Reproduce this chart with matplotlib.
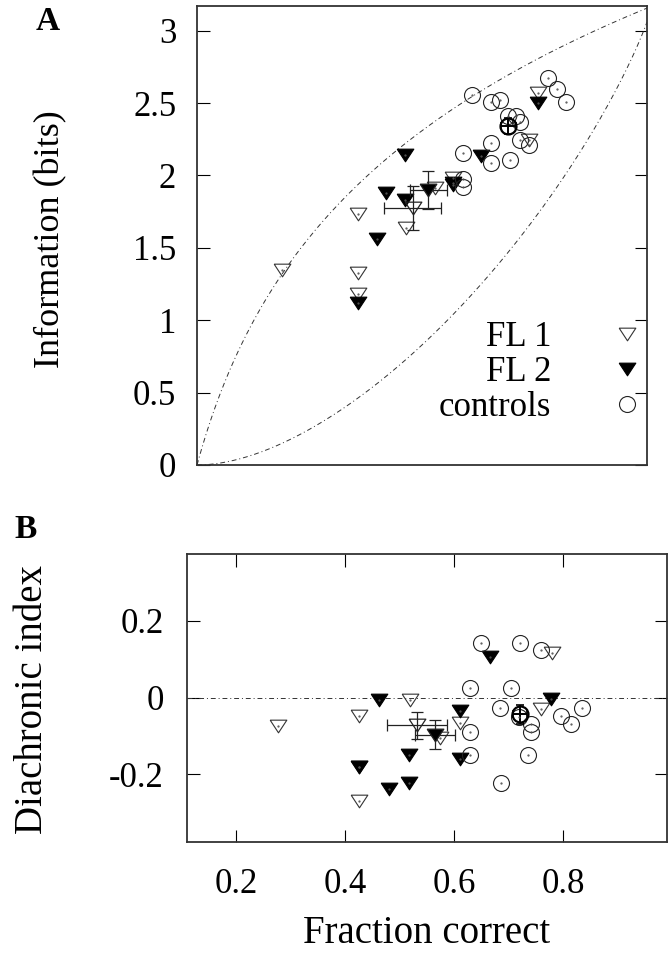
import numpy as np
import matplotlib
matplotlib.use("Agg")
import matplotlib.pyplot as plt

plt.rcParams['font.family'] = ['Liberation Serif', 'DejaVu Serif']

# ---- panel A: information vs fraction correct ----
fl1_frac_a = [0.277, 0.426, 0.426, 0.426, 0.519, 0.576, 0.612, 0.760, 0.778]
fl1_info = [1.35, 1.735, 1.325, 1.182, 1.636, 1.912, 1.981, 2.246, 2.569]
fl2_frac_a = [0.426, 0.463, 0.481, 0.517, 0.517, 0.612, 0.612, 0.665, 0.778]
fl2_info = [1.117, 1.562, 1.882, 2.142, 1.831, 1.935, 1.95, 2.135, 2.500]
ctrl_frac_a = [0.630, 0.630, 0.630, 0.648, 0.685, 0.685, 0.685, 0.703, 0.796,
               0.815, 0.832, 0.719, 0.734, 0.742, 0.723, 0.741, 0.759]
ctrl_info = [2.154, 1.974, 1.923, 2.557, 2.504, 2.227, 2.085, 2.522, 2.675,
             2.596, 2.504, 2.407, 2.407, 2.372, 2.108, 2.246, 2.211]
# group means (x, y, xerr, yerr)
mean_fl1_a = (0.532, 1.774, 0.055, 0.152)
mean_fl2_a = (0.563, 1.900, 0.036, 0.129)
mean_ctrl_a = (0.719, 2.340, 0.015, 0.055)

# ---- panel B: diachronic index vs fraction correct ----
fl1_frac_b = [0.278, 0.426, 0.426, 0.426, 0.519, 0.574, 0.611, 0.759, 0.779]
fl1_di = [-0.073, -0.049, -0.270, -0.181, -0.006, -0.105, -0.067, -0.029, 0.115]
fl2_frac_b = [0.426, 0.463, 0.481, 0.518, 0.518, 0.611, 0.611, 0.666, 0.778]
fl2_di = [-0.181, -0.006, -0.238, -0.149, -0.221, -0.036, -0.159, 0.107, -0.004]
ctrl_frac_b = [0.629, 0.629, 0.629, 0.649, 0.684, 0.686, 0.704, 0.721, 0.720,
               0.741, 0.741, 0.735, 0.759, 0.797, 0.815, 0.834]
ctrl_di = [0.026, -0.090, -0.149, 0.143, -0.028, -0.221, 0.026, 0.143, -0.050,
           -0.068, -0.090, -0.149, 0.124, -0.047, -0.069, -0.028]
mean_fl1_b = (0.533, -0.072, 0.055, 0.035)
mean_fl2_b = (0.565, -0.097, 0.036, 0.038)
mean_ctrl_b = (0.721, -0.043, 0.012, 0.025)

n_stim = 9
xlim = (1.0 / n_stim, 0.99)

a_yticks = [0, 0.5, 1, 1.5, 2, 2.5, 3]
a_yticklabels = ['0', '0.5', '1', '1.5', '2', '2.5', '3']
b_xticks = [0.2, 0.4, 0.6, 0.8]
b_xticklabels = ['0.2', '0.4', '0.6', '0.8']
b_yticks = [-0.2, 0, 0.2]
b_yticklabels = ['-0.2', '0', '0.2']

# theoretical bounds on information for n_stim alternatives
p = np.linspace(1.0 / n_stim, 0.99, 300)
upper = np.log2(n_stim * p)
h = -p * np.log2(p) - (1 - p) * np.log2(1 - p)
lower = np.log2(n_stim) - h - (1 - p) * np.log2(n_stim - 1)

tri = [(-1, 0.76), (1, 0.76), (0, -0.76), (-1, 0.76)]
dashdot = (0, (5, 3, 1, 3))
tick_fs = 25

fig = plt.figure(figsize=(6.72, 9.56), dpi=100)
axA = fig.add_axes([0.2932, 0.5136, 0.6696, 0.4801])
axB = fig.add_axes([0.2787, 0.1196, 0.7134, 0.3013])


def scatter_groups(ax, f1x, f1y, f2x, f2y, cx, cy, m1, m2, mc):
    l1, = ax.plot(f1x, f1y, ls='none', marker=tri, ms=12, mfc='none',
                  mec='#333333', mew=0.8)
    l2, = ax.plot(f2x, f2y, ls='none', marker=tri, ms=12, mfc='black',
                  mec='black', mew=0.8)
    l3, = ax.plot(cx, cy, ls='none', marker='o', ms=11.5, mfc='none',
                  mec='#222222', mew=0.8)
    for m, fc in [(m1, 'none'), (m2, 'black')]:
        ax.errorbar(m[0], m[1], xerr=m[2], yerr=m[3], fmt='none',
                    ecolor='#222222', elinewidth=0.9, capsize=4, capthick=0.9)
        ax.plot(m[0], m[1], ls='none', marker=tri, ms=12, mfc=fc,
                mec='#222222', mew=0.9)
    ax.errorbar(mc[0], mc[1], xerr=mc[2], yerr=mc[3], fmt='none',
                ecolor='black', elinewidth=1.4, capsize=3, capthick=1.2)
    ax.plot(mc[0], mc[1], ls='none', marker='o', ms=11.5, mfc='none',
            mec='black', mew=1.6)
    # small centre dots
    allx = list(f1x) + list(f2x) + list(cx)
    ally = list(f1y) + list(f2y) + list(cy)
    ax.plot(allx, ally, ls='none', marker='.', ms=1.2, color='#555555')
    return l1, l2, l3


# panel A
axA.plot(p, upper, color='#333333', lw=0.7, ls=dashdot)
axA.plot(p, lower, color='#333333', lw=0.7, ls=dashdot)
h1, h2, h3 = scatter_groups(axA, fl1_frac_a, fl1_info, fl2_frac_a, fl2_info,
                            ctrl_frac_a, ctrl_info,
                            mean_fl1_a, mean_fl2_a, mean_ctrl_a)
axA.set_xlim(*xlim)
axA.set_ylim(0, np.log2(n_stim))
axA.set_xticks([])
axA.set_yticks(a_yticks)
axA.set_yticklabels(a_yticklabels)
axA.tick_params(axis='y', direction='in', left=True, right=True, length=9,
                width=0.8, labelsize=tick_fs, pad=15)
axA.set_ylabel('Information (bits)', fontsize=26)
axA.yaxis.set_label_coords(-0.288, 0.493)
axA.legend([h1, h2, h3], ['FL 1', 'FL 2', 'controls'], loc='lower right',
           bbox_to_anchor=(0.995, 0.09), markerfirst=False, frameon=False,
           fontsize=25, handlelength=1.0, handletextpad=1.7,
           labelspacing=0.05, borderpad=0, borderaxespad=0)

# panel B
axB.axhline(0, color='#333333', lw=0.7, ls=dashdot)
scatter_groups(axB, fl1_frac_b, fl1_di, fl2_frac_b, fl2_di,
               ctrl_frac_b, ctrl_di, mean_fl1_b, mean_fl2_b, mean_ctrl_b)
axB.set_xlim(*xlim)
axB.set_ylim(-0.375, 0.375)
axB.set_xticks(b_xticks)
axB.set_xticklabels(b_xticklabels)
axB.set_yticks(b_yticks)
axB.set_yticklabels(b_yticklabels)
axB.tick_params(direction='in', top=True, right=True, length=9, width=0.8,
                labelsize=tick_fs)
axB.tick_params(axis='x', pad=19)
axB.tick_params(axis='y', pad=17)
axB.set_ylabel('Diachronic index', fontsize=28)
axB.yaxis.set_label_coords(-0.284, 0.495)
axB.set_xlabel('Fraction correct', fontsize=28)
axB.xaxis.set_label_coords(0.5, -0.255)

for ax in (axA, axB):
    for s in ax.spines.values():
        s.set_linewidth(1.3)
        s.set_color('#333333')

fig.text(48 / 672, 1 - 22 / 956, 'A', fontsize=24, fontweight='bold',
         ha='center', va='center')
fig.text(26 / 672, 1 - 529 / 956, 'B', fontsize=24, fontweight='bold',
         ha='center', va='center')

fig.savefig('out.png', dpi=100)
